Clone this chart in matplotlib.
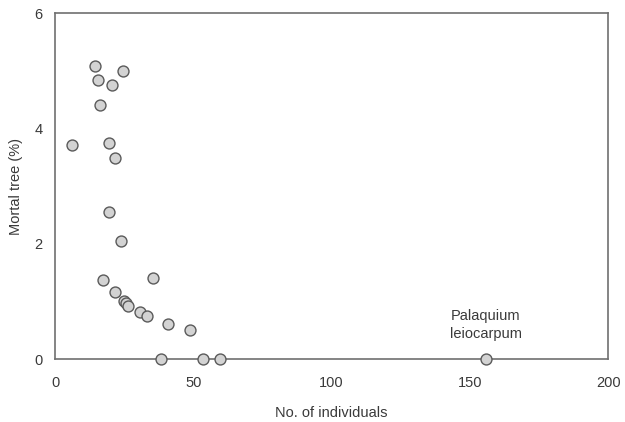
import numpy as np
import matplotlib
matplotlib.use("Agg")
import matplotlib.pyplot as plt

plt.rcParams['font.family'] = ['Liberation Sans', 'DejaVu Sans']

# number of individuals per species vs. mortality (%)
individuals = [6.3, 14.6, 15.6, 16.4, 20.7, 24.6, 19.6, 21.6, 19.6, 23.8,
               17.4, 35.6, 21.6, 25.0, 25.5, 26.4, 30.7, 33.4, 40.7, 48.7,
               38.5, 53.5, 59.7, 155.8]
mortality = [3.71, 5.08, 4.84, 4.41, 4.75, 4.99, 3.75, 3.49, 2.55, 2.05,
             1.38, 1.40, 1.16, 1.00, 0.97, 0.92, 0.81, 0.74, 0.61, 0.51,
             0.0, 0.0, 0.0, 0.0]
xticks = [0, 50, 100, 150, 200]
yticks = [0, 2, 4, 6]

fig = plt.figure(figsize=(6.25, 4.22), dpi=100)
ax = fig.add_axes([0.088, 0.149, 0.885, 0.82])

ax.scatter(individuals, mortality, s=62, facecolor='#d3d3d3',
           edgecolor='#5a5a5a', linewidth=1.0, zorder=3, clip_on=False)

ax.set_xlim(0, 200)
ax.set_ylim(0, 6)
ax.set_xticks(xticks)
ax.set_yticks(yticks)
ax.tick_params(length=0, labelsize=10.5, colors='#3a3a3a')
ax.tick_params(axis='x', pad=12)
ax.tick_params(axis='y', pad=9)
for sp in ax.spines.values():
    sp.set_color('#707070')
    sp.set_linewidth(1.2)

ax.set_xlabel('No. of individuals', fontsize=10.5, color='#3a3a3a', labelpad=12)
ax.set_ylabel('Mortal tree (%)', fontsize=10.5, color='#3a3a3a', labelpad=8)

ax.text(individuals[-1], 0.32, 'Palaquium\nleiocarpum', ha='center', va='bottom',
        multialignment='center', fontsize=10.5, color='#3a3a3a', linespacing=1.35)

fig.savefig('out.png', dpi=100)
